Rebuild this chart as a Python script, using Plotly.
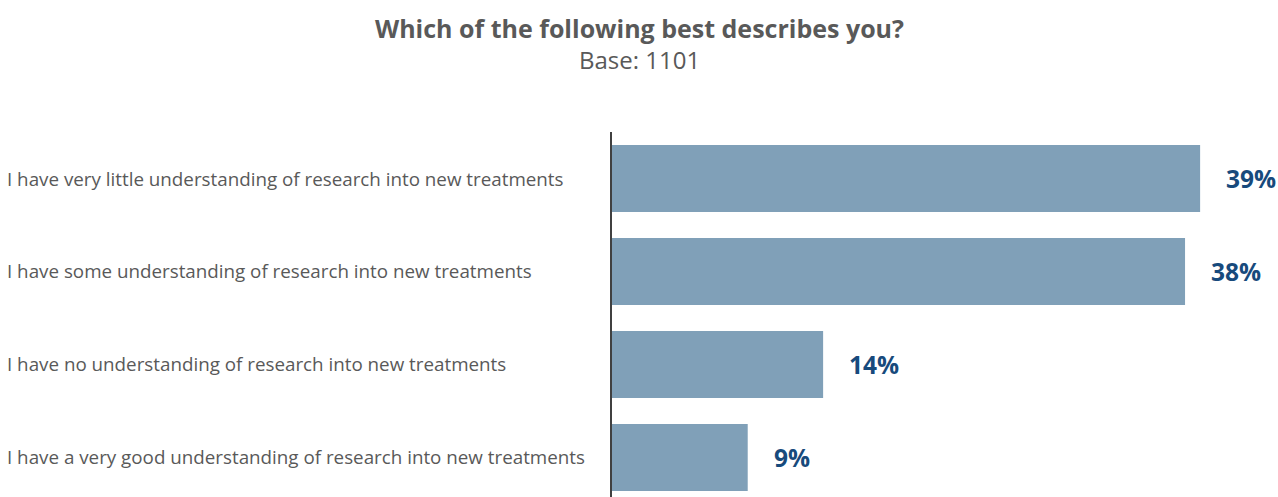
import plotly.graph_objects as go

# Survey responses
categories = [
    "I have very little understanding of research into new treatments",
    "I have some understanding of research into new treatments",
    "I have no understanding of research into new treatments",
    "I have a very good understanding of research into new treatments",
]
values = [39, 38, 14, 9]
value_labels = [f"{v}%" for v in values]

title_text = "Which of the following best describes you?"
subtitle_text = "Base: 1101"

W, H = 1278, 497
ML, MR, MT, MB = 612, 0, 132, 0
plot_w = W - ML - MR
plot_h = H - MT - MB
px_per_unit = 15.08
x_max = plot_w / px_per_unit

bar_color = "#80a0b8"
text_grey = "#595959"
value_color = "#174a7c"
font_family = "Open Sans, Noto Sans, sans-serif"

fig = go.Figure(
    go.Bar(
        x=values,
        y=categories,
        orientation="h",
        marker=dict(color=bar_color, line=dict(width=0)),
        width=0.72,
        hoverinfo="skip",
    )
)

annotations = []
# Category labels, left-aligned at the page edge
for cat in categories:
    annotations.append(dict(
        x=(5 - ML) / plot_w, xref="paper", y=cat, yref="y",
        text=cat, showarrow=False, xanchor="left", yanchor="middle",
        font=dict(family=font_family, size=18.8, color=text_grey),
    ))
# Value labels beyond each bar
for cat, v, lab in zip(categories, values, value_labels):
    annotations.append(dict(
        x=v, xref="x", y=cat, yref="y",
        text=f"<b>{lab}</b>", showarrow=False, xanchor="left", yanchor="middle",
        xshift=24,
        font=dict(family=font_family, size=24.5, color=value_color),
    ))
# Title and subtitle
annotations.append(dict(
    x=(W / 2 - ML) / plot_w, xref="paper", y=(H - 28) / plot_h, yref="paper",
    text=f"<b>{title_text}</b>", showarrow=False, xanchor="center", yanchor="middle",
    font=dict(family=font_family, size=25, color=text_grey),
))
annotations.append(dict(
    x=(W / 2 - ML) / plot_w, xref="paper", y=(H - 60) / plot_h, yref="paper",
    text=subtitle_text, showarrow=False, xanchor="center", yanchor="middle",
    font=dict(family=font_family, size=24, color=text_grey),
))

fig.update_layout(
    width=W, height=H,
    margin=dict(l=ML, r=MR, t=MT, b=MB, pad=0),
    paper_bgcolor="white", plot_bgcolor="white",
    showlegend=False,
    annotations=annotations,
    xaxis=dict(range=[0, x_max], visible=False, fixedrange=True),
    yaxis=dict(
        range=[3.425, -0.5],
        showticklabels=False, ticks="",
        showline=True, linecolor="#404040", linewidth=2,
        showgrid=False, zeroline=False, fixedrange=True,
    ),
)

fig.write_html("out.html")
